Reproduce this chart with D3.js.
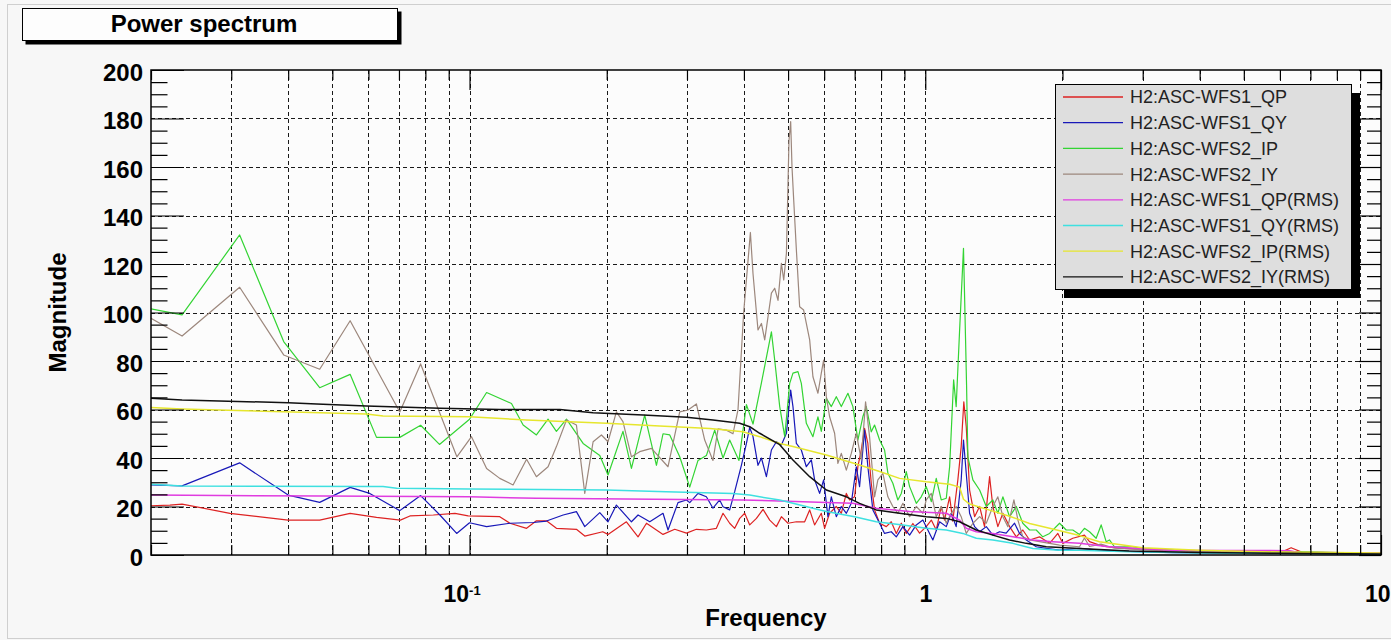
<!DOCTYPE html>
<html>
<head>
<meta charset="utf-8">
<script src="https://cdn.jsdelivr.net/npm/d3@7"></script>
<style>
  html, body { margin: 0; padding: 0; background: #f7f7f7; }
  svg { display: block; font-family: "Liberation Sans", Arial, Helvetica, sans-serif; }
</style>
</head>
<body>
<svg id="chart" width="1391" height="640"></svg>
<script>
// values, [frequency (Hz), magnitude]
const wfs1QP = [
  [0.02,20.3],[0.022,20.6],[0.0234,21],[0.0298,17.2],[0.04,14.4],[0.0469,14.4],[0.0547,17.2],[0.0625,15.5],
  [0.0705,14.4],[0.074,16.1],[0.0833,16.5],[0.0929,17.2],[0.0993,16.1],[0.1165,15.8],[0.1226,13.1],[0.1334,11],
  [0.1402,14.1],[0.1475,14.1],[0.1551,11],[0.1716,10.6],[0.179,7.8],[0.196,9.6],[0.2013,8.5],[0.2209,13.7],
  [0.2343,7.5],[0.2445,13.1],[0.2658,8.5],[0.282,10.6],[0.2992,9],[0.3146,10.6],[0.3309,10.3],[0.348,11],
  [0.3599,17.2],[0.3722,13.1],[0.3818,11],[0.3916,15.1],[0.4016,17.2],[0.4119,12.4],[0.4261,15.1],[0.4406,18.8],
  [0.4557,14.4],[0.4713,11.7],[0.4834,15.8],[0.4998,13.1],[0.5214,13.7],[0.5437,13.7],[0.5576,18.6],[0.5717,12.4],
  [0.5914,17.2],[0.6014,11],[0.6167,17.2],[0.6379,20],[0.6543,17.2],[0.6711,25.4],[0.6823,22.7],[0.6996,24],
  [0.7114,36.4],[0.7237,43.3],[0.7359,52.2],[0.7482,46],[0.7612,29.6],[0.774,18.6],[0.7939,13.1],[0.8212,11.7],
  [0.8421,13.7],[0.8637,8.9],[0.8859,13.1],[0.9085,8.9],[0.9393,13],[0.9716,9],[1.005,11.7],[1.031,14.4],
  [1.057,10.3],[1.084,20],[1.102,14.4],[1.131,24],[1.149,14],[1.179,31],[1.199,44.7],[1.215,63.2],
  [1.23,52.9],[1.251,26.8],[1.283,15.8],[1.316,20],[1.349,11.7],[1.384,32.3],[1.407,20],[1.443,11.7],
  [1.48,17.2],[1.531,11.7],[1.584,7.5],[1.637,10.3],[1.694,6.2],[1.781,7.5],[1.874,4.8],[1.954,8.9],
  [2.004,4.8],[2.107,6.9],[2.235,8.2],[2.293,5.5],[2.411,4.1],[2.5,3.4],[2.736,2.7],[2.976,2.4],
  [3.5,1.8],[5,1.5],[6.1,1.5],[6.35,3],[6.7,1.2],[10,0.8]
];

const wfs1QY = [
  [0.02,28.9],[0.0234,28.5],[0.0313,38],[0.04,24.7],[0.0469,21.7],[0.0547,27.9],[0.0604,25.4],[0.0703,18.3],
  [0.0781,24.5],[0.0861,16.5],[0.0937,8.9],[0.1,13.3],[0.109,11.7],[0.1226,13.1],[0.138,13.4],[0.1475,14],
  [0.1605,16.5],[0.1716,17.9],[0.179,11.7],[0.1931,17.5],[0.2013,13.7],[0.21,20.6],[0.2266,13.7],[0.2343,16.5],
  [0.2486,13.7],[0.2658,17.2],[0.2726,10.3],[0.2867,21.6],[0.2992,22.7],[0.3042,21.6],[0.3172,25.4],[0.3309,24],
  [0.3421,19.3],[0.3539,22.7],[0.3599,19.9],[0.3722,18.6],[0.3818,26.1],[0.3949,37],[0.4051,46],[0.4119,52.6],
  [0.4188,48.8],[0.4295,37],[0.437,40],[0.4481,32.3],[0.4596,43.3],[0.4713,46.7],[0.4834,45.4],[0.4958,50.2],
  [0.5066,68],[0.5125,61.2],[0.5214,46],[0.5346,43.3],[0.5483,36.4],[0.5623,39.2],[0.5717,31],[0.5864,25.4],
  [0.5984,31],[0.6115,15.8],[0.6221,24],[0.6379,15.8],[0.6543,20],[0.6711,17.2],[0.6881,21.3],[0.7057,36.4],
  [0.7175,28.2],[0.7359,51.5],[0.7482,36.4],[0.7674,18.6],[0.7939,13.1],[0.8141,8.9],[0.8421,9.6],[0.8637,7.5],
  [0.8931,11.7],[0.9239,8.2],[0.9557,12.4],[0.9879,14.4],[1.013,10.3],[1.039,6.2],[1.075,13.7],[1.112,11.7],
  [1.14,17.2],[1.169,11.7],[1.199,31],[1.213,47.4],[1.23,33.7],[1.251,17.2],[1.283,11.7],[1.316,9.6],
  [1.361,11.7],[1.407,8.2],[1.455,9.6],[1.505,9],[1.57,13.1],[1.61,8.9],[1.666,6.2],[1.752,3.4],
  [1.843,2.7],[1.971,2],[2.18,2.7],[2.4,2],[3,1.3],[3.5,1],[5,0.8],[10,0.5]
];

const wfs2IP = [
  [0.02,101.5],[0.0234,99],[0.0313,132],[0.0391,88],[0.0469,69],[0.0547,74.5],[0.0625,48.5],[0.0703,48.5],
  [0.0781,53.5],[0.0859,45.6],[0.1,56],[0.109,67],[0.1236,62.5],[0.1311,53.6],[0.1402,49.5],[0.1487,56],
  [0.1551,51],[0.1632,56],[0.1775,46],[0.1931,41],[0.2013,33],[0.2171,51],[0.2266,35.7],[0.2423,57.7],
  [0.2571,37],[0.2658,50],[0.275,49.5],[0.2892,40.5],[0.3042,28],[0.3172,39],[0.3309,41],[0.3451,51.5],
  [0.3599,40],[0.3722,47.4],[0.3901,39],[0.4051,62],[0.4188,54],[0.437,71],[0.4596,92],[0.4673,80.4],
  [0.4793,61.2],[0.4916,48.8],[0.5041,70.8],[0.5125,75],[0.5256,75.6],[0.5346,70.8],[0.5483,54.3],[0.5669,48.8],
  [0.5814,57],[0.5914,51],[0.6066,64.6],[0.6221,61.2],[0.6379,65.3],[0.6543,61.2],[0.6765,66.7],[0.6937,61.2],
  [0.7114,47.4],[0.7295,57],[0.7422,61.2],[0.7612,50.8],[0.774,53.6],[0.7939,47.4],[0.8141,43.3],[0.8279,33.7],
  [0.8489,29.6],[0.8707,22.7],[0.8859,25.4],[0.9085,34.4],[0.9239,28.2],[0.9557,21.3],[0.9799,24],[1.005,28.2],
  [1.031,22],[1.057,31.6],[1.084,22.7],[1.112,23.4],[1.131,36.4],[1.154,72.2],[1.169,61.2],[1.189,92],
  [1.205,115],[1.213,126.5],[1.222,100],[1.232,70],[1.24,40.5],[1.272,31],[1.316,26.8],[1.361,20],
  [1.407,22.7],[1.443,17.2],[1.48,24],[1.531,15.8],[1.584,20],[1.637,13.1],[1.694,10.3],[1.752,10.3],
  [1.811,7.5],[1.874,8.9],[1.971,13.1],[2.038,10.3],[2.107,10.3],[2.18,8.5],[2.235,11],[2.293,9.6],
  [2.371,6.9],[2.432,12.4],[2.494,5.5],[2.536,6.2],[2.601,3.4],[2.849,3.4],[2.976,2.7],[3.211,2.4],
  [3.522,2],[4.16,1.7],[5.83,1.6],[7.5,1.1],[10,0.7]
];

const wfs2IY = [
  [0.02,97.6],[0.0234,90.3],[0.0313,110.4],[0.0391,82.5],[0.0469,76.6],[0.0547,96.6],[0.0703,59],[0.0781,78.8],
  [0.0938,40.5],[0.101,48.8],[0.109,35.7],[0.1165,31.6],[0.1246,28.9],[0.1334,39.5],[0.1402,32.3],[0.1487,36.4],
  [0.1551,44.7],[0.1632,55.7],[0.1716,53.6],[0.179,25.4],[0.1867,46.7],[0.1947,49.5],[0.2013,46.7],[0.21,59],
  [0.2171,55],[0.2266,40.5],[0.2363,42.6],[0.2507,44],[0.2726,36.4],[0.2892,59],[0.3016,59.8],[0.3146,62.3],
  [0.3281,47.4],[0.3421,39],[0.351,52],[0.3661,51.5],[0.3785,50],[0.3882,59.8],[0.3995,100],[0.4133,133],
  [0.4188,116],[0.4295,92.8],[0.437,95.5],[0.4443,88.7],[0.4596,108],[0.4673,110],[0.4752,105],[0.4834,120.3],
  [0.4891,113.4],[0.4958,124.4],[0.5023,171],[0.5066,178.7],[0.51,160],[0.5144,146.4],[0.5214,125.8],[0.5301,102.4],
  [0.5409,101],[0.5576,88.7],[0.5669,73.5],[0.5814,66.7],[0.5914,75],[0.5984,80.4],[0.6066,65.3],[0.6167,57],
  [0.6325,50.2],[0.6431,37.8],[0.6543,41.9],[0.6711,35],[0.6881,41.9],[0.7057,50.2],[0.7237,39.2],[0.7396,63.2],
  [0.7546,48.8],[0.774,24],[0.787,31],[0.8072,33.7],[0.8279,24],[0.8489,20],[0.8707,17.2],[0.8931,21.3],
  [0.9239,15.8],[0.9557,20],[0.9879,17.2],[1.005,22.7],[1.031,25.4],[1.057,15.8],[1.084,20],[1.112,13.1],
  [1.14,17.2],[1.169,20],[1.199,15.8],[1.23,8.9],[1.272,13.1],[1.316,15.8],[1.361,13.1],[1.407,20],
  [1.443,24],[1.48,15.8],[1.518,11.7],[1.565,22.7],[1.597,14.4],[1.637,7.5],[1.694,6.2],[1.781,5.5],
  [1.874,4.8],[1.971,4.1],[2.18,3.4],[2.235,7],[2.293,3.5],[2.43,4.5],[2.6,2.8],[3,2.2],
  [3.5,1.8],[4.2,1.4],[5.8,1.2],[10,0.8]
];

const wfs1QPrms = [
  [0.02,24.7],[0.0477,24.3],[0.1,24],[0.1402,23.4],[0.3981,22.7],[0.4793,22.3],[0.6066,21.6],[0.6937,21.3],
  [0.7806,19.3],[0.9239,17.9],[1.112,17.2],[1.189,14.4],[1.23,11],[1.294,9.6],[1.407,8.9],[1.557,7.5],
  [1.722,6.2],[1.905,5.5],[2.18,4.8],[2.5,3.5],[3,2.6],[3.5,2],[5,1.9],[6.3,1.8],[6.6,1],[10,0.8]
];

const wfs1QYrms = [
  [0.02,29.2],[0.0234,28.5],[0.0646,28.2],[0.0692,27.5],[0.1,27.2],[0.2,26.8],[0.27,26.1],[0.3785,25.4],
  [0.4119,24.7],[0.4332,24],[0.4793,22.7],[0.5125,21.3],[0.6066,17.9],[0.6996,15.8],[0.7806,13.7],[0.8931,12.4],
  [1.005,11],[1.112,10.3],[1.209,8.9],[1.294,6.9],[1.407,6.2],[1.557,4.8],[1.722,2.7],[1.971,2],
  [2.18,2],[2.8,1.3],[4,0.8],[6,0.6],[10,0.4]
];

const wfs2IPrms = [
  [0.02,60.8],[0.0234,60.2],[0.039,59.1],[0.0594,58.1],[0.0646,57.3],[0.1,57],[0.1334,55.7],[0.1997,54.3],
  [0.2614,53.2],[0.3371,52.2],[0.3981,50.8],[0.4332,48.8],[0.4793,46],[0.5125,44.7],[0.6066,41.2],[0.7175,37.1],
  [0.7939,34.4],[0.8782,31.6],[1.005,30.2],[1.131,29.2],[1.189,28],[1.213,23],[1.251,21],[1.384,18.5],
  [1.531,16],[1.694,13],[1.874,11],[2.18,8],[2.411,5.5],[3,3],[4,2],[6,1.2],[10,0.8]
];

const wfs2IYrms = [
  [0.02,64.6],[0.0234,63.9],[0.04,62.8],[0.0462,62.3],[0.0594,61.4],[0.0861,60.5],[0.1165,60],[0.1578,60],
  [0.1867,58.7],[0.2404,57.7],[0.2992,56.8],[0.3421,55.7],[0.3916,54.3],[0.4119,52.9],[0.4332,50.2],[0.4793,45.5],
  [0.5125,39.2],[0.5576,32.3],[0.6066,26.8],[0.6711,24],[0.7175,21.3],[0.7806,18.6],[0.8782,17.2],[1.005,15.8],
  [1.112,15.1],[1.189,13.7],[1.294,10.3],[1.407,8.2],[1.531,6.2],[1.666,4.8],[1.843,3.4],[2.18,2.7],
  [2.8,1.6],[4,1],[6,0.7],[10,0.4]
];

const seriesNames = [
  'H2:ASC-WFS1_QP', 'H2:ASC-WFS1_QY', 'H2:ASC-WFS2_IP', 'H2:ASC-WFS2_IY',
  'H2:ASC-WFS1_QP(RMS)', 'H2:ASC-WFS1_QY(RMS)', 'H2:ASC-WFS2_IP(RMS)', 'H2:ASC-WFS2_IY(RMS)'
];
const seriesData = [wfs1QP, wfs1QY, wfs2IP, wfs2IY, wfs1QPrms, wfs1QYrms, wfs2IPrms, wfs2IYrms];
const seriesColors = ['#dd2222', '#1818b8', '#33d433', '#9c877c', '#e03ce0', '#3ee0e0', '#e6e62e', '#111111'];

const freqDomain = [0.02, 10];
const magDomain = [0, 200];
const xLabelValues = [0.1, 1, 10];
const yLabelValues = [0, 20, 40, 60, 80, 100, 120, 140, 160, 180, 200];

const margin = { left: 151, right: 10, top: 70, bottom: 85 };
const width = 1391, height = 640;
const plotW = width - margin.left - margin.right;
const plotH = height - margin.top - margin.bottom;

const svg = d3.select('#chart');

// outer canvas edge
svg.append('rect')
  .attr('x', 7.5).attr('y', 4.5)
  .attr('width', 1400).attr('height', 634)
  .attr('fill', '#f7f7f7').attr('stroke', '#cfcfcf');

// title box with shadow
svg.append('rect').attr('x', 25.5).attr('y', 11.5).attr('width', 376).attr('height', 33).attr('fill', '#000');
svg.append('rect').attr('x', 22.5).attr('y', 8.5).attr('width', 375).attr('height', 32)
  .attr('fill', '#fdfdfd').attr('stroke', '#000');
svg.append('text')
  .attr('x', 204).attr('y', 32)
  .attr('text-anchor', 'middle')
  .attr('font-size', 24).attr('font-weight', 'bold')
  .text('Power spectrum');

const x = d3.scaleLog().domain(freqDomain).range([margin.left, margin.left + plotW]);
const y = d3.scaleLinear().domain(magDomain).range([margin.top + plotH, margin.top]);

// plot area
svg.append('rect')
  .attr('x', margin.left).attr('y', margin.top)
  .attr('width', plotW).attr('height', plotH)
  .attr('fill', '#fcfcfc');

// grid
const gridG = svg.append('g').attr('stroke', '#1a1a1a').attr('stroke-width', 1).attr('stroke-dasharray', '4,3');
gridG.selectAll('line.vx')
  .data(x.ticks().filter((d) => d > freqDomain[0] && d < freqDomain[1]))
  .join('line')
  .attr('x1', (d) => Math.round(x(d)) + 0.5).attr('x2', (d) => Math.round(x(d)) + 0.5)
  .attr('y1', margin.top).attr('y2', margin.top + plotH);
gridG.selectAll('line.hy')
  .data(yLabelValues.filter((d) => d > magDomain[0] && d < magDomain[1]))
  .join('line')
  .attr('x1', margin.left).attr('x2', margin.left + plotW)
  .attr('y1', (d) => Math.round(y(d)) + 0.5).attr('y2', (d) => Math.round(y(d)) + 0.5);

// curves
svg.append('clipPath').attr('id', 'plotClip')
  .append('rect')
  .attr('x', margin.left).attr('y', margin.top)
  .attr('width', plotW).attr('height', plotH);

const line = d3.line()
  .x((d) => x(d[0]))
  .y((d) => y(d[1]));

svg.append('g')
  .attr('clip-path', 'url(#plotClip)')
  .selectAll('path')
  .data(seriesData)
  .join('path')
  .attr('d', line)
  .attr('fill', 'none')
  .attr('stroke', (d, i) => seriesColors[i])
  .attr('stroke-width', (d, i) => (i < 4 ? 1.2 : 1.5))
  .attr('stroke-linejoin', 'round');

// axes
const yMinor = y.ticks(40).filter((d) => d % 20 !== 0);
const xMinor = x.ticks().filter((d) => !xLabelValues.includes(d));

const styleAxis = (g) => {
  g.select('.domain').remove();
  g.selectAll('line').attr('stroke', '#000').attr('stroke-width', 1.2);
};

svg.append('g')
  .attr('transform', `translate(${margin.left},0)`)
  .call(d3.axisLeft(y).tickValues(yLabelValues).tickSize(-33).tickPadding(8))
  .call(styleAxis)
  .call((g) => g.selectAll('text')
    .attr('dy', '0.42em')
    .attr('font-size', 24).attr('font-weight', 'bold')
    .attr('font-family', '"Liberation Sans", Arial, sans-serif')
    .attr('fill', '#000'));

svg.append('g')
  .attr('transform', `translate(${margin.left},0)`)
  .call(d3.axisLeft(y).tickValues(yMinor).tickSize(-16.5).tickFormat(''))
  .call(styleAxis);

svg.append('g')
  .attr('transform', `translate(${margin.left + plotW},0)`)
  .call(d3.axisRight(y).tickValues(yLabelValues).tickSize(-22).tickFormat(''))
  .call(styleAxis);

svg.append('g')
  .attr('transform', `translate(${margin.left + plotW},0)`)
  .call(d3.axisRight(y).tickValues(yMinor).tickSize(-14).tickFormat(''))
  .call(styleAxis);

svg.append('g')
  .attr('transform', `translate(0,${margin.top + plotH})`)
  .call(d3.axisBottom(x).tickValues(xLabelValues).tickSize(-20).tickPadding(31)
    .tickFormat((d) => (d >= 1 ? String(d) : '10')))
  .call(styleAxis)
  .call((g) => g.selectAll('text')
    .attr('font-size', 23).attr('font-weight', 'bold')
    .attr('font-family', '"Liberation Sans", Arial, sans-serif')
    .attr('fill', '#000'))
  .call((g) => g.selectAll('.tick')
    .filter((d) => d < 1)
    .select('text')
    .attr('x', -8)
    .append('tspan')
    .attr('dy', '-0.6em')
    .attr('font-size', 13)
    .text('-1'))
  // the last label sits on the page edge: keep it inside the picture
  .call((g) => g.selectAll('.tick')
    .filter((d) => d >= 10)
    .select('text')
    .attr('text-anchor', 'end')
    .attr('x', 9));

svg.append('g')
  .attr('transform', `translate(0,${margin.top + plotH})`)
  .call(d3.axisBottom(x).tickValues(xMinor).tickSize(-10).tickFormat(''))
  .call(styleAxis);

svg.append('g')
  .attr('transform', `translate(0,${margin.top})`)
  .call(d3.axisTop(x).tickValues(xLabelValues).tickSize(-20).tickFormat(''))
  .call(styleAxis);

svg.append('g')
  .attr('transform', `translate(0,${margin.top})`)
  .call(d3.axisTop(x).tickValues(xMinor).tickSize(-10).tickFormat(''))
  .call(styleAxis);

// frame
svg.append('rect')
  .attr('x', margin.left).attr('y', margin.top)
  .attr('width', plotW).attr('height', plotH)
  .attr('fill', 'none').attr('stroke', '#000').attr('stroke-width', 1.5);

// axis titles
svg.append('text')
  .attr('x', margin.left + plotW / 2).attr('y', 626)
  .attr('text-anchor', 'middle')
  .attr('font-size', 24).attr('font-weight', 'bold')
  .text('Frequency');

svg.append('text')
  .attr('transform', `translate(66,${margin.top + plotH / 2}) rotate(-90)`)
  .attr('text-anchor', 'middle')
  .attr('font-size', 24).attr('font-weight', 'bold')
  .text('Magnitude');

// legend
const legendG = svg.append('g');
legendG.append('rect').attr('x', 1064).attr('y', 93).attr('width', 296).attr('height', 205).attr('fill', '#000');
legendG.append('rect').attr('x', 1055.5).attr('y', 84.5).attr('width', 296).attr('height', 205)
  .attr('fill', '#dedede').attr('stroke', '#000');

const rows = legendG.selectAll('g.row')
  .data(seriesNames)
  .join('g')
  .attr('transform', (d, i) => `translate(0,${97 + i * 25.7})`);

rows.append('line')
  .attr('x1', 1063).attr('x2', 1123)
  .attr('stroke', (d, i) => seriesColors[i])
  .attr('stroke-width', 1.3);

rows.append('text')
  .attr('x', 1130).attr('y', 6.4)
  .attr('font-size', 18)
  .attr('fill', '#222')
  .text((d) => d);
</script>
</body>
</html>
